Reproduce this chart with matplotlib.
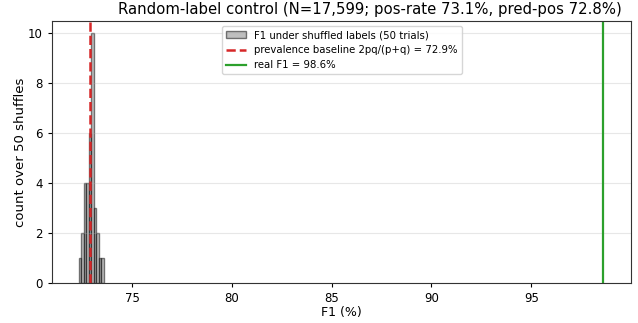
import numpy as np
import matplotlib
matplotlib.use("Agg")
import matplotlib.pyplot as plt

# Histogram of F1 (%) across 50 label shuffles: bin edges and counts
bin_edges = [72.335, 72.46, 72.585, 72.71, 72.835, 72.96, 73.085, 73.21, 73.335, 73.46, 73.585]
bin_counts = [1, 2, 4, 4, 6, 10, 3, 2, 1, 1]

baseline_f1 = 72.9   # prevalence baseline 2pq/(p+q)
real_f1 = 98.6       # F1 with real labels

title = "Random-label control (N=17,599; pos-rate 73.1%, pred-pos 72.8%)"

plt.rcParams.update({
    "xtick.labelsize": 8.5,
    "ytick.labelsize": 8.5,
    "xtick.major.size": 3.2,
    "ytick.major.size": 3.2,
    "axes.edgecolor": "#333333",
})

fig, ax = plt.subplots(figsize=(6.38, 3.23), dpi=100)
fig.subplots_adjust(left=0.082, right=0.989, top=0.935, bottom=0.124)

centers = [(a + b) / 2 for a, b in zip(bin_edges[:-1], bin_edges[1:])]
ax.hist(centers, bins=bin_edges, weights=bin_counts, color="gray", alpha=0.5,
        edgecolor="black", label="F1 under shuffled labels (50 trials)")
ax.axvline(baseline_f1, color="tab:red", linestyle="--", linewidth=1.8,
           label=f"prevalence baseline 2pq/(p+q) = {baseline_f1:.1f}%")
ax.axvline(real_f1, color="tab:green", linewidth=1.6,
           label=f"real F1 = {real_f1:.1f}%")

ax.set_xlim(71.0, 100.0)
ax.set_xticks([75, 80, 85, 90, 95])
ax.set_xlabel("F1 (%)", fontsize=9, labelpad=0.5)
ax.set_ylabel("count over 50 shuffles", fontsize=9.5, labelpad=1)
fig.suptitle(title, fontsize=10.7, x=0.579, y=0.995)
ax.grid(axis="y", alpha=0.3)
ax.legend(loc="upper center", fontsize=7.25)

fig.savefig("out.png", dpi=100)
